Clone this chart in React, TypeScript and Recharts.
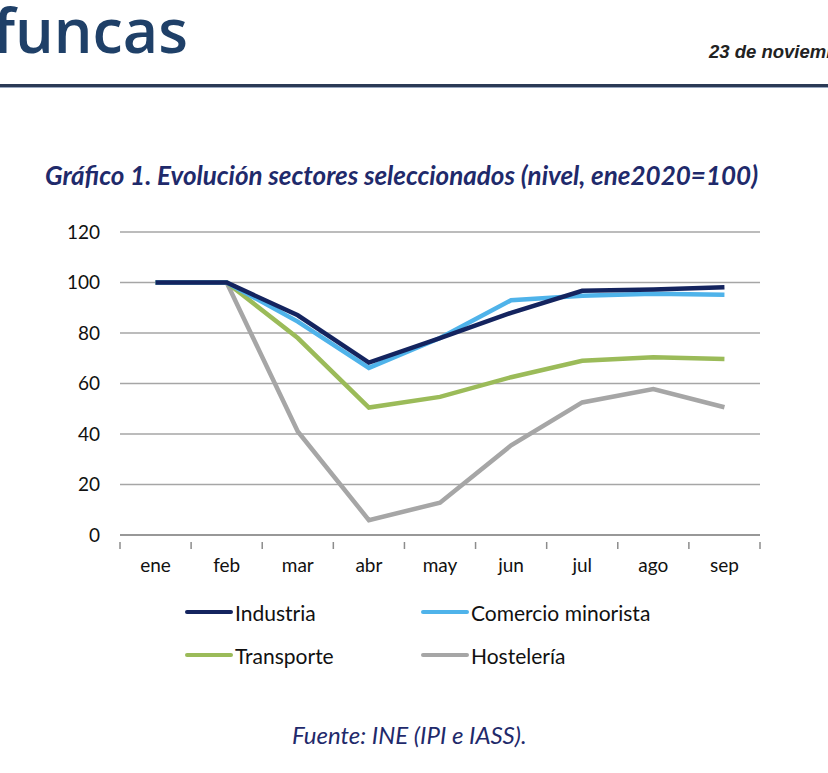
import React from "react";
import { LineChart, Line, XAxis, YAxis, CartesianGrid } from "recharts";

const months = ["ene", "feb", "mar", "abr", "may", "jun", "jul", "ago", "sep"];
const industria = [100, 100, 87, 68.3, 78, 88, 96.7, 97.2, 98.1];
const comercio = [100, 100, 84.5, 66.2, 78, 93, 94.8, 95.5, 95.1];
const transporte = [100, 100, 78, 50.5, 54.7, 62.5, 69, 70.4, 69.7];
const hosteleria = [100, 100, 41, 5.9, 12.8, 35.5, 52.5, 57.8, 50.6];
const yTicks = [0, 20, 40, 60, 80, 100, 120];

const seriesNames = ["Industria", "Comercio minorista", "Transporte", "Hostelería"];
const seriesColors = ["#14245f", "#4fb3ea", "#9bbb59", "#a6a6a6"];

const data = months.map((m, i) => ({
  month: m,
  industria: industria[i],
  comercio: comercio[i],
  transporte: transporte[i],
  hosteleria: hosteleria[i],
}));

const FONT = "Lato, 'Open Sans', sans-serif";

const PLOT_W = 640;
const STEP = PLOT_W / months.length;

const XTick = (props: any) => {
  const { x, y, payload, index } = props;
  const half = STEP / 2;
  return (
    <g>
      <line x1={x - half} y1={y - 1} x2={x - half} y2={y + 6} stroke="#8c8c8c" strokeWidth={1.5} />
      {index === months.length - 1 && (
        <line x1={x + half} y1={y - 1} x2={x + half} y2={y + 6} stroke="#8c8c8c" strokeWidth={1.5} />
      )}
      <text x={x} y={y + 29} textAnchor="middle" fontSize={19} fill="#111" fontFamily={FONT}>
        {payload.value}
      </text>
    </g>
  );
};

const LegendItem = ({ name, color }: { name: string; color: string }) => (
  <div style={{ display: "flex", alignItems: "center", height: 24 }}>
    <div style={{ width: 48, height: 4.5, borderRadius: 2, background: color }} />
    <span style={{ fontSize: 21, fontFamily: FONT, color: "#111", marginLeft: 2 }}>{name}</span>
  </div>
);

export default function App() {
  return (
    <div style={{ position: "absolute", left: 0, top: 0, width: 828, height: 773, background: "#fff", overflow: "hidden" }}>
      <div style={{ position: "absolute", left: -7, top: -12, fontFamily: "'Open Sans', sans-serif", fontWeight: 600, fontSize: 61, color: "#1f4068", letterSpacing: 0 }}>
        funcas
      </div>
      <div style={{ position: "absolute", left: 709, top: 41, fontFamily: "'Liberation Sans', Arial, sans-serif", fontWeight: 700, fontStyle: "italic", fontSize: 18.5, color: "#222", whiteSpace: "nowrap" }}>
        23 de noviembre de 2020
      </div>
      <div style={{ position: "absolute", left: 0, top: 84, width: 828, height: 3, background: "#2b3a55" }} />
      <div style={{ position: "absolute", left: 0, top: 87, width: 828, height: 1, background: "#9aa8c0" }} />
      <div style={{ position: "absolute", left: 45, top: 159, fontFamily: FONT, fontWeight: 700, fontStyle: "italic", fontSize: 26, color: "#1f2a6b", whiteSpace: "nowrap" }}>
        Gráfico 1. Evolución sectores seleccionados (nivel, ene2020=100)
      </div>
      <div style={{ position: "absolute", left: 0, top: 200 }}>
        <LineChart width={828} height={400} data={data} margin={{ top: 32, right: 68, bottom: 25, left: 0 }}>
          <CartesianGrid vertical={false} stroke="#a6a6a6" strokeWidth={1.5} />
          <XAxis
            dataKey="month"
            scale="band"
            height={40}
            axisLine={{ stroke: "#8c8c8c", strokeWidth: 1.5 }}
            tickLine={false}
            tick={<XTick />}
            interval={0}
          />
          <YAxis
            width={120}
            domain={[0, 120]}
            ticks={yTicks}
            axisLine={false}
            tickLine={false}
            tickMargin={14}
            tick={{ fontSize: 19, fill: "#111", fontFamily: FONT }}
          />
          <Line dataKey="hosteleria" stroke={seriesColors[3]} strokeWidth={4.5} dot={false} isAnimationActive={false} />
          <Line dataKey="transporte" stroke={seriesColors[2]} strokeWidth={4.5} dot={false} isAnimationActive={false} />
          <Line dataKey="comercio" stroke={seriesColors[1]} strokeWidth={4.5} dot={false} isAnimationActive={false} />
          <Line dataKey="industria" stroke={seriesColors[0]} strokeWidth={4.5} dot={false} isAnimationActive={false} />
        </LineChart>
      </div>
      <div style={{ position: "absolute", left: 185, top: 600 }}>
        <LegendItem name={seriesNames[0]} color={seriesColors[0]} />
      </div>
      <div style={{ position: "absolute", left: 421, top: 600 }}>
        <LegendItem name={seriesNames[1]} color={seriesColors[1]} />
      </div>
      <div style={{ position: "absolute", left: 185, top: 643 }}>
        <LegendItem name={seriesNames[2]} color={seriesColors[2]} />
      </div>
      <div style={{ position: "absolute", left: 421, top: 643 }}>
        <LegendItem name={seriesNames[3]} color={seriesColors[3]} />
      </div>
      <div style={{ position: "absolute", left: 292, top: 720, fontFamily: FONT, fontStyle: "italic", fontSize: 24, color: "#1f2a6b", whiteSpace: "nowrap" }}>
        Fuente: INE (IPI e IASS).
      </div>
    </div>
  );
}
